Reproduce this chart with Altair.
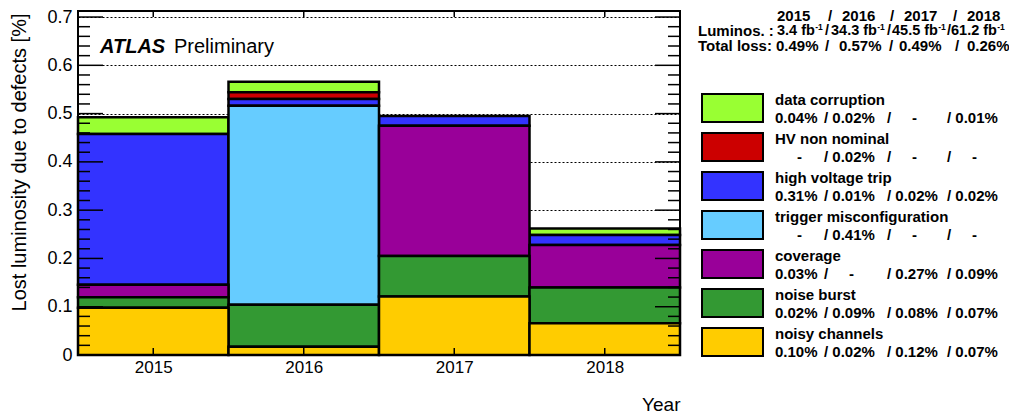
import altair as alt
import pandas as pd

FONT = "Liberation Sans"

# ---------------- data ----------------
years = [2015, 2016, 2017, 2018]
categories = ["data corruption", "HV non nominal", "high voltage trip",
              "trigger misconfiguration", "coverage", "noise burst", "noisy channels"]
colors = ["#99ff33", "#cc0000", "#3333ff", "#66ccff", "#990099", "#339933", "#ffcc00"]

# plotted heights (lost luminosity, %) per year
data_corruption = [0.035, 0.022, 0.0, 0.0135]
hv_non_nominal = [0.0, 0.014, 0.0, 0.0]
high_voltage_trip = [0.312, 0.014, 0.020, 0.0205]
trigger_misconfiguration = [0.0, 0.412, 0.0, 0.0]
coverage = [0.026, 0.0, 0.270, 0.088]
noise_burst = [0.0215, 0.087, 0.084, 0.074]
noisy_channels = [0.098, 0.017, 0.121, 0.066]
series = [data_corruption, hv_non_nominal, high_voltage_trip, trigger_misconfiguration,
          coverage, noise_burst, noisy_channels]

# legend numbers per category (2015 / 2016 / 2017 / 2018)
legend_values = [
    ["0.04%", "0.02%", "-", "0.01%"],
    ["-", "0.02%", "-", "-"],
    ["0.31%", "0.01%", "0.02%", "0.02%"],
    ["-", "0.41%", "-", "-"],
    ["0.03%", "-", "0.27%", "0.09%"],
    ["0.02%", "0.09%", "0.08%", "0.07%"],
    ["0.10%", "0.02%", "0.12%", "0.07%"],
]
lumi_labels = ["3.4 fb", "34.3 fb", "45.5 fb", "61.2 fb"]
lumi_unit_sup = "-1"
total_loss = ["0.49%", "0.57%", "0.49%", "0.26%"]

y_major = [0, 0.1, 0.2, 0.3, 0.4, 0.5, 0.6, 0.7]
y_minor = [round(0.02 * i, 2) for i in range(36) if i % 5 != 0]

# ---------------- layout ----------------
W, H = 602, 344
YMAX = 0.7125

rows = []
n = len(categories)
for ci, cat in enumerate(categories):
    for yi, yr in enumerate(years):
        v = series[ci][yi]
        if v > 0:
            rows.append({"category": cat, "year": yr, "value": v,
                         "order": n - 1 - ci, "color": colors[ci]})
bars_df = pd.DataFrame(rows)

yscale = alt.Scale(domain=[0, YMAX], nice=False, zero=True)
xscale = alt.Scale(domain=[2014.5, 2018.5], nice=False, zero=False)

xaxis = alt.Axis(values=years, format="d", title="Year", tickSize=0, domain=False, grid=False,
                 labelFontSize=17, labelPadding=4, labelFont=FONT, labelColor="black",
                 titleFont=FONT, titleFontSize=19, titleFontWeight="normal", titleColor="black",
                 titleX=W, titleY=55, titleAlign="right", titleBaseline="alphabetic")
yaxis = alt.Axis(values=y_major, format="~g", tickSize=0, domain=False, grid=True,
                 gridDash=[2, 2], gridColor="black", gridOpacity=1, gridWidth=1,
                 labelFontSize=18, labelPadding=6, labelFont=FONT, labelColor="black",
                 title="Lost luminosity due to defects [%]", titleFont=FONT, titleFontSize=20,
                 titleFontWeight="normal", titleColor="black", titleX=-59, titleY=2,
                 titleAlign="right", titleBaseline="middle", titleAngle=270)

bars = alt.Chart(bars_df).transform_stack(
    stack="value", groupby=["year"], as_=["y0", "y1"],
    sort=[alt.SortField("order", order="ascending")]
).transform_calculate(
    x0="datum.year - 0.5", x1="datum.year + 0.5"
).mark_rect(stroke="black", strokeWidth=2.5).encode(
    x=alt.X("x0:Q", scale=xscale, axis=xaxis),
    x2="x1:Q",
    y=alt.Y("y0:Q", scale=yscale, axis=yaxis),
    y2="y1:Q",
    fill=alt.Fill("color:N", scale=None),
)

major_df = pd.DataFrame({"v": y_major})
minor_df = pd.DataFrame({"v": y_minor})
years_df = pd.DataFrame({"year": years})

def yticks(df, x0, x1):
    return alt.Chart(df).mark_rule(color="black", strokeWidth=1.5).encode(
        y=alt.Y("v:Q", scale=yscale, axis=None), x=alt.value(x0), x2=alt.value(x1))

def xticks(y0, y1):
    return alt.Chart(years_df).mark_rule(color="black", strokeWidth=1.5).encode(
        x=alt.X("year:Q", scale=xscale, axis=None), y=alt.value(y0), y2=alt.value(y1))

ticks = [yticks(major_df, 0, 25), yticks(minor_df, 0, 12),
         yticks(major_df, W - 25, W), yticks(minor_df, W - 12, W),
         xticks(0, 6), xticks(H - 7, H)]

frame = alt.Chart(pd.DataFrame({"a": [0]})).mark_rect(
    fillOpacity=0, stroke="black", strokeWidth=2
).encode(x=alt.value(0), x2=alt.value(W), y=alt.value(0), y2=alt.value(H))

atlas = alt.Chart(pd.DataFrame({"a": [0]})).mark_text(
    text="ATLAS", font=FONT, fontSize=20, fontWeight="bold", fontStyle="italic",
    align="left", baseline="alphabetic", color="black"
).encode(x=alt.value(22), y=alt.value(42))
prelim = alt.Chart(pd.DataFrame({"a": [0]})).mark_text(
    text="Preliminary", font=FONT, fontSize=20, align="left", baseline="alphabetic", color="black"
).encode(x=alt.value(96), y=alt.value(42))

# legend boxes
sw = []
for i, c in enumerate(colors):
    sw.append({"px0": 624, "px1": 685, "py0": 83 + 39 * i, "py1": 111 + 39 * i, "color": c})
sw_df = pd.DataFrame(sw)
swatches = alt.Chart(sw_df).mark_rect(stroke="black", strokeWidth=2).encode(
    x=alt.X("px0:Q", scale=None), x2="px1:Q",
    y=alt.Y("py0:Q", scale=None), y2="py1:Q",
    fill=alt.Fill("color:N", scale=None))

# legend texts
txt = []
slash_x = [746, 809, 869]
for i, cat in enumerate(categories):
    yn = 89 + 39 * i
    yv = 107 + 39 * i
    txt.append({"px": 697, "py": yn, "text": cat})
    for j, v in enumerate(legend_values[i]):
        if j == 0:
            if v == "-":
                txt.append({"px": 719, "py": yv, "text": "-"})
            else:
                txt.append({"px": 697, "py": yv, "text": v})
        else:
            sx = slash_x[j - 1]
            if v == "-":
                txt.append({"px": sx, "py": yv, "text": "/"})
                txt.append({"px": sx + 25, "py": yv, "text": "-"})
            else:
                txt.append({"px": sx, "py": yv, "text": "/ " + v})

# header
HY0, HY1, HY2 = 5, 20, 35
hdr_year_x = [699, 764, 826, 889]
hdr_slash = [750, 812, 875]
for j, yr in enumerate(years):
    txt.append({"px": hdr_year_x[j], "py": HY0, "text": str(yr)})
for sx in hdr_slash:
    txt.append({"px": sx, "py": HY0, "text": "/"})
txt.append({"px": 620, "py": HY1, "text": "Luminos. :"})
lumi_x = [699, 753, 814, 873]
lumi_w = [37.9, 45.9, 45.9, 45.9]
lumi_slash = [747, 809, 869]
lumi_txt = []
sup = []
for j, l in enumerate(lumi_labels):
    lumi_txt.append({"px": lumi_x[j], "py": HY1, "text": l})
    sup.append({"px": lumi_x[j] + lumi_w[j] + 0.3, "py": HY1 - 4, "text": lumi_unit_sup})
for sx in lumi_slash:
    lumi_txt.append({"px": sx, "py": HY1, "text": "/"})
txt.append({"px": 620, "py": HY2, "text": "Total loss:"})
tl_x = [698, 761, 821, 889]
tl_slash = [747, 811, 877]
for j, l in enumerate(total_loss):
    txt.append({"px": tl_x[j], "py": HY2, "text": l})
for sx in tl_slash:
    txt.append({"px": sx, "py": HY2, "text": "/"})
txt_df = pd.DataFrame(txt)
lumi_df = pd.DataFrame(lumi_txt)
sup_df = pd.DataFrame(sup)

texts = alt.Chart(txt_df).mark_text(
    align="left", baseline="middle", font=FONT, fontSize=15, fontWeight="bold", color="black"
).encode(x=alt.X("px:Q", scale=None), y=alt.Y("py:Q", scale=None), text="text:N")
lumis = alt.Chart(lumi_df).mark_text(
    align="left", baseline="middle", font=FONT, fontSize=14.5, fontWeight="bold", color="black"
).encode(x=alt.X("px:Q", scale=None), y=alt.Y("py:Q", scale=None), text="text:N")
sups = alt.Chart(sup_df).mark_text(
    align="left", baseline="middle", font=FONT, fontSize=8.5, fontWeight="bold", color="black"
).encode(x=alt.X("px:Q", scale=None), y=alt.Y("py:Q", scale=None), text="text:N")

chart = alt.layer(bars, *ticks, frame, atlas, prelim, swatches, texts, lumis, sups).resolve_scale(
    x="independent", y="independent"
).properties(
    width=W, height=H,
    autosize=alt.AutoSizeParams(type="none"),
    padding={"left": 70, "top": 3, "right": 329, "bottom": 60},
    background="white",
).configure_view(strokeWidth=0)

chart.save("out.html", embed_options={"renderer": "svg", "actions": False})
